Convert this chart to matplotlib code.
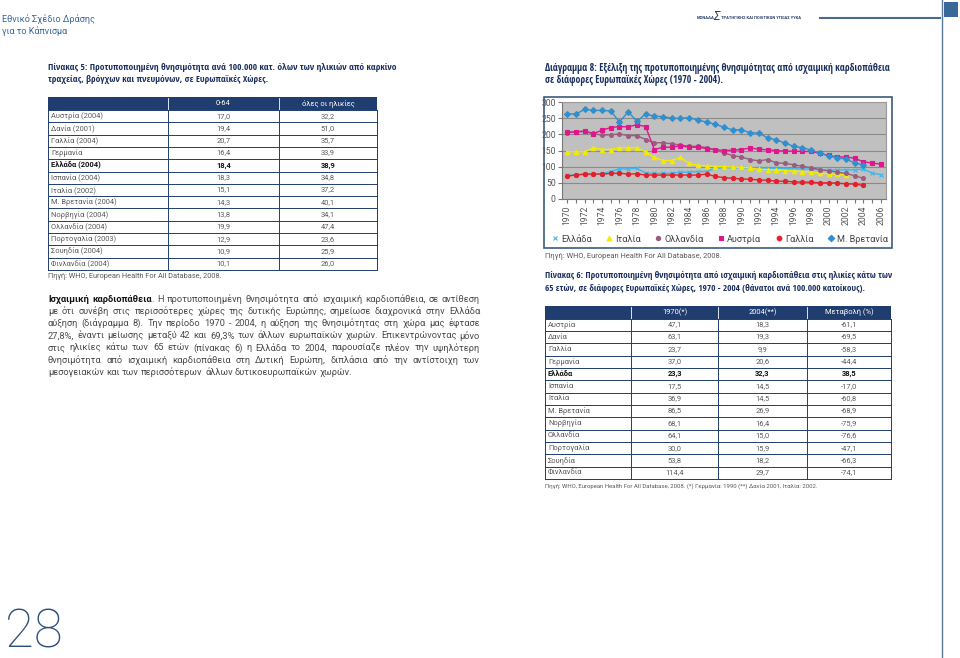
import matplotlib
matplotlib.use('Agg')
import matplotlib.pyplot as plt
from matplotlib.lines import Line2D
from matplotlib.patches import Rectangle
from matplotlib import font_manager as fm
from matplotlib.ft2font import FT2Font

plt.rcParams['font.family'] = ['Roboto', 'DejaVu Sans']

# ---------------- data ----------------
years = list(range(1970, 2007))
greece = [73, 75, 77, 77, 78, 85, 93, 93, 95, 80, 79, 79, 80, 83, 83, 85, 85, 95, 97, 97,
          97, 94, 95, 95, 95, 94, 93, 93, 92, 90, 89, 90, 90, 90, 93, 80, 75]          # 1970-2006
italy = [146, 146, 146, 158, 153, 153, 158, 158, 158, 146, 129, 119, 119, 129, 110, 104, 102,
         100, 100, 99, 98, 96, 92, 91, 90, 88, 87, 85, 83, 80, 78, 76, 74]             # 1970-2002
netherlands = [205, 208, 210, 203, 197, 199, 201, 196, 196, 184, 174, 174, 171, 167, 163, 163,
               159, 151, 143, 134, 130, 122, 118, 122, 112, 110, 106, 101, 97, 91, 87, 83, 79,
               72, 64]                                                                   # 1970-2004
austria = [206, 208, 209, 202, 213, 221, 224, 223, 230, 224, 153, 160, 160, 165, 160, 160, 156,
           153, 150, 151, 153, 158, 154, 152, 150, 148, 148, 147, 147, 141, 135, 130, 130, 126,
           115, 111, 108]                                                                # 1970-2006
france = [71, 74, 77, 77, 77, 79, 80, 77, 78, 74, 74, 74, 74, 74, 74, 74, 77, 70, 66, 64, 62, 61,
          59, 58, 55, 55, 53, 52, 52, 50, 50, 49, 47, 46, 42]                            # 1970-2004
uk = [263, 263, 277, 274, 274, 272, 238, 270, 240, 263, 256, 255, 250, 249, 252, 244, 238, 231,
      222, 214, 214, 205, 204, 189, 183, 173, 163, 159, 151, 142, 133, 128, 123, 112, 105]  # 1970-2004

legend_labels = ['Ελλάδα', 'Ιταλία', 'Ολλανδία', 'Αυστρία', 'Γαλλία', 'Μ. Βρετανία']

t5_header = ['', '0-64', 'όλες οι ηλικίες']
t5_countries = ['Αυστρία (2004)', 'Δανία (2001)', 'Γαλλία (2004)', 'Γερμανία', 'Ελλάδα (2004)',
                'Ισπανία (2004)', 'Ιταλία (2002)', 'Μ. Βρετανία (2004)', 'Νορβηγία (2004)',
                'Ολλανδία (2004)', 'Πορτογαλία (2003)', 'Σουηδία (2004)', 'Φινλανδία (2004)']
t5_064 = ['17,0', '19,4', '20,7', '16,4', '18,4', '18,3', '15,1', '14,3', '13,8', '19,9', '12,9', '10,9', '10,1']
t5_all = ['32,2', '51,0', '35,7', '33,9', '38,9', '34,8', '37,2', '40,1', '34,1', '47,4', '23,6', '25,9', '26,0']

t6_header = ['', '1970(*)', '2004(**)', 'Μεταβολή (%)']
t6_countries = ['Αυστρία', 'Δανία', 'Γαλλία', 'Γερμανία', 'Ελλάδα', 'Ισπανία', 'Ιταλία',
                'Μ. Βρετανία', 'Νορβηγία', 'Ολλανδία', 'Πορτογαλία', 'Σουηδία', 'Φινλανδία']
t6_1970 = ['47,1', '63,1', '23,7', '37,0', '23,3', '17,5', '36,9', '86,5', '68,1', '64,1', '30,0', '53,8', '114,4']
t6_2004 = ['18,3', '19,3', '9,9', '20,6', '32,3', '14,5', '14,5', '26,9', '16,4', '15,0', '15,9', '18,2', '29,7']
t6_change = ['-61,1', '-69,5', '-58,3', '-44,4', '38,5', '-17,0', '-60,8', '-68,9', '-75,9', '-76,6', '-47,1', '-66,3', '-74,1']

# ---------------- figure helpers ----------------
W, H = 960, 658
fig = plt.figure(figsize=(9.6, 6.58), dpi=100)
fig.patch.set_facecolor('white')
renderer = fig.canvas.get_renderer()

NAVY = '#1f3d6e'
TITLE = '#1b2f5e'
BODY = '#4a4a4a'
GRAY = '#5a5a5a'


def fx(x):
    return x / W


def fy(y):
    return 1 - y / H


def txt(x, y, s, size, color=BODY, weight='normal', ha='left', va='center', **kw):
    return fig.text(fx(x), fy(y), s, fontsize=size, color=color, fontweight=weight,
                    ha=ha, va=va, **kw)


def width_of(t):
    return t.get_window_extent(renderer).width


def fit(x, y, s, target_w, base=6.0, **kw):
    t = txt(x, y, s, base, **kw)
    w = width_of(t)
    fs = base * target_w / w
    t.set_fontsize(fs)
    return t, fs


def has_greek_font(name):
    try:
        path = fm.findfont(fm.FontProperties(family=name, weight='bold'), fallback_to_default=False)
        f = FT2Font(path)
        cm = f.get_charmap()
        return all(ord(c) in cm for c in 'Πίνακαςώ')
    except Exception:
        return False


# choose the narrowest installed font with Greek glyphs for the bold titles
cands = [n for n in ['Liberation Sans Narrow', 'DejaVu Sans Condensed', 'Roboto Condensed',
                     'Open Sans Condensed', 'Noto Sans Condensed', 'Lato', 'Roboto']
         if has_greek_font(n)]
probe_s = 'Πίνακας 5: Προτυποποιημένη θνησιμότητα'
best, best_w = 'Roboto', None
for n in cands:
    t = txt(0, 0, probe_s, 6, weight='bold', family=[n, 'DejaVu Sans'])
    w = width_of(t)
    t.remove()
    if best_w is None or w < best_w:
        best, best_w = n, w
TFONT = [best, 'Roboto', 'DejaVu Sans']


def hline(x0, x1, y, color, lw):
    fig.add_artist(Line2D([fx(x0), fx(x1)], [fy(y), fy(y)], color=color, lw=lw,
                          transform=fig.transFigure))


def vline(x, y0, y1, color, lw):
    fig.add_artist(Line2D([fx(x), fx(x)], [fy(y0), fy(y1)], color=color, lw=lw,
                          transform=fig.transFigure))


def rect(x0, y0, x1, y1, fc, ec='none', lw=0, z=1):
    fig.add_artist(Rectangle((fx(x0), fy(y1)), fx(x1) - fx(x0), (y1 - y0) / H,
                             transform=fig.transFigure, facecolor=fc, edgecolor=ec, lw=lw,
                             zorder=z))


# ---------------- page header ----------------
fit(2, 19, 'Εθνικό Σχέδιο Δράσης', 93, color='#3b679b')
fit(2, 31, 'για το Κάπνισμα', 66, color='#3b679b')

txt(697, 18, 'ΜΟΝΑΔΑ', 3.0, color='#2a3f66', weight='bold')
txt(713, 17, 'Σ', 8.5, color='#2a3f66', style='italic')
fit(721, 18, 'ΤΡΑΤΗΓΙΚΗΣ ΚΑΙ ΠΟΛΙΤΙΚΩΝ ΥΓΕΙΑΣ ΥΥΚΑ', 81, color='#2a3f66', weight='bold')
hline(820, 940, 18, '#4b6b8c', 1.5)
rect(944, 2, 958, 17, '#3a6898')
vline(942, 0, 658, '#5a7896', 1.0)

# ---------------- titles ----------------
_, tfs = fit(48, 68, 'Πίνακας 5: Προτυποποιημένη θνησιμότητα ανά 100.000 κατ. όλων των ηλικιών από καρκίνο',
             347, color=TITLE, weight='bold', family=TFONT)
txt(48, 80, 'τραχείας, βρόγχων και πνευμόνων, σε Ευρωπαϊκές Χώρες.', tfs, color=TITLE, weight='bold',
    family=TFONT)

_, dfs = fit(545, 68, 'Διάγραμμα 8: Εξέλιξη της προτυποποιημένης θνησιμότητας από ισχαιμική καρδιοπάθεια',
             347, color=TITLE, weight='bold', family=TFONT)
txt(545, 80, 'σε διάφορες Ευρωπαϊκές Χώρες (1970 - 2004).', dfs, color=TITLE, weight='bold', family=TFONT)

_, t6fs = fit(545, 275, 'Πίνακας 6: Προτυποποιημένη θνησιμότητα από ισχαιμική καρδιοπάθεια στις ηλικίες κάτω των',
              348, color=TITLE, weight='bold', family=TFONT)
txt(545, 288, '65 ετών, σε διάφορες Ευρωπαϊκές Χώρες, 1970 - 2004 (θάνατοι ανά 100.000 κατοίκους).',
    t6fs, color=TITLE, weight='bold', family=TFONT)


# ---------------- tables ----------------
def draw_table(edges, top, hh, rh, header, cols, bold_row, fs=5.4):
    left, right = edges[0], edges[-1]
    n = len(cols[0])
    rect(left, top, right, top + hh, NAVY)
    for xe in edges[1:-1]:
        vline(xe, top + 1, top + hh, 'white', 0.6)
    for j, h in enumerate(header):
        if h:
            txt((edges[j] + edges[j + 1]) / 2, top + hh / 2, h, fs, color='white', ha='center')
    y0 = top + hh
    for i in range(n + 1):
        hline(left, right, y0 + i * rh, NAVY, 0.7)
    for xe in edges:
        vline(xe, y0, y0 + n * rh, NAVY, 0.7)
    for i in range(n):
        yc = y0 + (i + 0.5) * rh
        b = (i == bold_row)
        col = '#111111' if b else GRAY
        wt = 'bold' if b else 'normal'
        txt(left + 3, yc, cols[0][i], fs, color=col, weight=wt)
        for j in range(1, len(cols)):
            txt((edges[j] + edges[j + 1]) / 2, yc, cols[j][i], fs, color=col, weight=wt, ha='center')


draw_table([48, 168, 279, 377], 97, 13, 12.3, t5_header, [t5_countries, t5_064, t5_all], 4)
fit(48, 276, 'Πηγή: WHO, European Health For All Database, 2008.', 176, color=GRAY)

draw_table([545, 631, 718, 807, 891], 306, 12.5, 12.35, t6_header,
           [t6_countries, t6_1970, t6_2004, t6_change], 4)
fit(545, 486, 'Πηγή: WHO, European Health For All Database, 2008. (*) Γερμανία: 1990 (**) Δανία 2001, Ιταλία: 2002.',
    278, color=GRAY)

# ---------------- paragraph ----------------
para = [
    'Ισχαιμική καρδιοπάθεια. Η προτυποποιημένη θνησιμότητα από ισχαιμική καρδιοπάθεια, σε αντίθεση',
    'με ότι συνέβη στις περισσότερες χώρες της δυτικής Ευρώπης, σημείωσε διαχρονικά στην Ελλάδα',
    'αύξηση (διάγραμμα 8). Την περίοδο 1970 - 2004, η αύξηση της θνησιμότητας στη χώρα μας έφτασε',
    '27,8%, έναντι μείωσης μεταξύ 42 και 69,3% των άλλων ευρωπαϊκών χωρών. Επικεντρώνοντας μόνο',
    'στις ηλικίες κάτω των 65 ετών (πίνακας 6) η Ελλάδα το 2004, παρουσίαζε πλέον την υψηλότερη',
    'θνησιμότητα από ισχαιμική καρδιοπάθεια στη Δυτική Ευρώπη, διπλάσια από την αντίστοιχη των',
    'μεσογειακών και των περισσότερων άλλων δυτικοευρωπαϊκών χωρών.',
]


def tokens(i, line):
    ws = line.split(' ')
    out = [[(w, False)] for w in ws]
    if i == 0:
        out[0] = [(ws[0], True)]
        out[1] = [('καρδιοπάθεια', True), ('.', False)]
    return out


def measure_line(words, fs):
    arts, widths = [], []
    for w in words:
        segs, ww = [], 0
        for s, b in w:
            t = txt(0, 0, s, fs, color='#111111' if b else BODY, weight='bold' if b else 'normal')
            sw = width_of(t)
            segs.append((t, sw))
            ww += sw
        arts.append(segs)
        widths.append(ww)
    return arts, widths


PX0, PX1 = 48, 480
base = 6.5
probe = txt(0, 0, 'a a', base)
probe2 = txt(0, 0, 'aa', base)
space_base = width_of(probe) - width_of(probe2)
probe.remove()
probe2.remove()

nat = []
for i, line in enumerate(para[:-1]):
    arts, widths = measure_line(tokens(i, line), base)
    nat.append(sum(widths) + space_base * (len(widths) - 1))
    for segs in arts:
        for t, _ in segs:
            t.remove()
pfs = base * 0.985 * (PX1 - PX0) / max(nat)
space = space_base * pfs / base

for i, line in enumerate(para):
    y = 299 + 12.25 * i
    words = tokens(i, line)
    arts, widths = measure_line(words, pfs)
    justify = i < len(para) - 1
    gap = (PX1 - PX0 - sum(widths)) / (len(words) - 1) if justify else space
    x = PX0
    for segs, ww in zip(arts, widths):
        xx = x
        for t, sw in segs:
            t.set_position((fx(xx), fy(y)))
            xx += sw
        x += ww + gap

# ---------------- page number ----------------
txt(5, 648, '28', 38, color='#2c4e7a', weight='light', va='baseline')

# ---------------- chart ----------------
rect(544, 97, 892, 248, 'white', ec='#3c5a7e', lw=1.2, z=0.5)
ax = fig.add_axes([fx(562), fy(199), (886 - 562) / W, (199 - 102) / H])
ax.set_zorder(3)
ax.set_facecolor('#c0c0c0')
ax.set_xlim(1969.4, 2006.6)
ax.set_ylim(0, 300)
ax.set_yticks(range(0, 301, 50))
ax.yaxis.grid(True, color='#8a8a8a', lw=0.8)
ax.set_axisbelow(True)
for sp in ax.spines.values():
    sp.set_color('#9a9a9a')
    sp.set_linewidth(0.8)
ax.spines['left'].set_color('#777777')
ax.spines['bottom'].set_color('#777777')
ax.set_xticks(years)
ax.set_xticklabels([str(y) if y % 2 == 0 else '' for y in years], rotation=90,
                   fontsize=6.2, color='#555555')
ax.tick_params(axis='y', labelsize=6.2, labelcolor='#555555', length=3, pad=1.5, color='#777777')
ax.tick_params(axis='x', length=3, pad=2, color='#777777')

series = [
    (greece, '#3cb8ee', 'x', 2.6, 'Ελλάδα'),
    (italy, '#f2ec00', '^', 3.2, 'Ιταλία'),
    (netherlands, '#9a5d7e', 'o', 2.8, 'Ολλανδία'),
    (austria, '#e0168c', 's', 3.0, 'Αυστρία'),
    (france, '#e4202a', 'o', 3.0, 'Γαλλία'),
    (uk, '#2f8fcf', 'D', 3.0, 'Μ. Βρετανία'),
]
handles = {}
for vals, c, m, ms, lab in series:
    ax.plot(years[:len(vals)], vals, color=c, lw=1.0, marker=m, ms=ms, mec=c, mfc=c, mew=0.8)
    handles[lab] = Line2D([], [], ls='none', marker=m, color=c, ms=ms + 0.3, mew=0.8)

leg = ax.legend([handles[l] for l in legend_labels], legend_labels, loc='center',
                bbox_to_anchor=(fx(551), fy(249), (888 - 551) / W, 20 / H),
                bbox_transform=fig.transFigure, ncol=6, mode='expand', frameon=False,
                fontsize=6.6, labelcolor='#444444', handlelength=0.8, handletextpad=0.3,
                borderaxespad=0, borderpad=0)

fit(545, 256, 'Πηγή: WHO, European Health For All Database, 2008.', 177, color=GRAY)

fig.savefig('out.png', dpi=100, facecolor='white')
